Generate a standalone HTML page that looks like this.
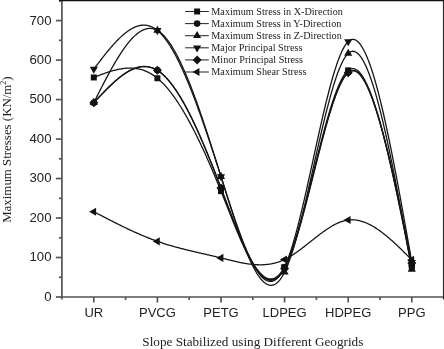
<!DOCTYPE html>
<html><head><meta charset="utf-8"><style>
html,body{margin:0;padding:0;background:#fff;}
svg{display:block;will-change:transform;}

</style></head><body>
<svg width="444" height="349" viewBox="0 0 444 349">
<g stroke="#555" stroke-width="1.7" fill="none">
<line x1="61.9" y1="0" x2="61.9" y2="299.5"/>
<line x1="61.1" y1="297" x2="443.7" y2="297"/>
<line x1="55.9" y1="297.00" x2="61.9" y2="297.00"/>
<line x1="58.9" y1="277.26" x2="61.9" y2="277.26"/>
<line x1="55.9" y1="257.51" x2="61.9" y2="257.51"/>
<line x1="58.9" y1="237.77" x2="61.9" y2="237.77"/>
<line x1="55.9" y1="218.03" x2="61.9" y2="218.03"/>
<line x1="58.9" y1="198.29" x2="61.9" y2="198.29"/>
<line x1="55.9" y1="178.54" x2="61.9" y2="178.54"/>
<line x1="58.9" y1="158.80" x2="61.9" y2="158.80"/>
<line x1="55.9" y1="139.06" x2="61.9" y2="139.06"/>
<line x1="58.9" y1="119.31" x2="61.9" y2="119.31"/>
<line x1="55.9" y1="99.57" x2="61.9" y2="99.57"/>
<line x1="58.9" y1="79.83" x2="61.9" y2="79.83"/>
<line x1="55.9" y1="60.09" x2="61.9" y2="60.09"/>
<line x1="58.9" y1="40.34" x2="61.9" y2="40.34"/>
<line x1="55.9" y1="20.60" x2="61.9" y2="20.60"/>
<line x1="58.9" y1="0.86" x2="61.9" y2="0.86"/>
<line x1="93.80" y1="297" x2="93.80" y2="302.5"/>
<line x1="125.60" y1="297" x2="125.60" y2="300"/>
<line x1="157.40" y1="297" x2="157.40" y2="302.5"/>
<line x1="189.20" y1="297" x2="189.20" y2="300"/>
<line x1="221.00" y1="297" x2="221.00" y2="302.5"/>
<line x1="252.80" y1="297" x2="252.80" y2="300"/>
<line x1="284.60" y1="297" x2="284.60" y2="302.5"/>
<line x1="316.40" y1="297" x2="316.40" y2="300"/>
<line x1="348.20" y1="297" x2="348.20" y2="302.5"/>
<line x1="380.00" y1="297" x2="380.00" y2="300"/>
<line x1="411.80" y1="297" x2="411.80" y2="302.5"/>
</g>
<line x1="443.7" y1="0" x2="443.7" y2="299.5" stroke="#2a2a2a" stroke-width="1.6"/>
<line x1="59" y1="0.5" x2="444" y2="0.5" stroke="#111" stroke-width="1.6"/>
<g font-family="Liberation Sans, sans-serif" font-size="13" fill="#222">
<text x="51.5" y="300.90" text-anchor="end" font-size="13.2">0</text>
<text x="51.5" y="261.41" text-anchor="end" font-size="13.2">100</text>
<text x="51.5" y="221.93" text-anchor="end" font-size="13.2">200</text>
<text x="51.5" y="182.44" text-anchor="end" font-size="13.2">300</text>
<text x="51.5" y="142.96" text-anchor="end" font-size="13.2">400</text>
<text x="51.5" y="103.47" text-anchor="end" font-size="13.2">500</text>
<text x="51.5" y="63.99" text-anchor="end" font-size="13.2">600</text>
<text x="51.5" y="24.50" text-anchor="end" font-size="13.2">700</text>
<text x="93.80" y="316.6" text-anchor="middle">UR</text>
<text x="157.40" y="316.6" text-anchor="middle">PVCG</text>
<text x="221.00" y="316.6" text-anchor="middle">PETG</text>
<text x="284.60" y="316.6" text-anchor="middle">LDPEG</text>
<text x="348.20" y="316.6" text-anchor="middle">HDPEG</text>
<text x="411.80" y="316.6" text-anchor="middle">PPG</text>
</g>
<g font-family="Liberation Serif, serif" fill="#222">
<text x="252.8" y="346.4" font-size="13.2" text-anchor="middle">Slope Stabilized using Different Geogrids</text>
<text transform="translate(11.2,149.6) rotate(-90)" font-size="12.9" text-anchor="middle">Maximum Stresses (KN/m<tspan font-size="8" dy="-5">2</tspan><tspan dy="5">)</tspan></text>
</g>
<g stroke="#161616" stroke-width="1.3" fill="none">
<polyline points="93.80,77.46 94.60,77.15 95.39,76.84 96.19,76.53 96.99,76.22 97.78,75.91 98.58,75.61 99.38,75.30 100.18,75.00 100.97,74.70 101.77,74.40 102.57,74.11 103.36,73.82 104.16,73.53 104.96,73.25 105.75,72.97 106.55,72.70 107.35,72.43 108.15,72.16 108.94,71.91 109.74,71.65 110.54,71.40 111.33,71.16 112.13,70.93 112.93,70.70 113.72,70.48 114.52,70.27 115.32,70.07 116.12,69.87 116.91,69.68 117.71,69.50 118.51,69.33 119.30,69.17 120.10,69.02 120.90,68.88 121.69,68.75 122.49,68.63 123.29,68.52 124.09,68.42 124.88,68.33 125.68,68.26 126.48,68.20 127.27,68.15 128.07,68.11 128.87,68.08 129.66,68.07 130.46,68.07 131.26,68.09 132.06,68.12 132.85,68.16 133.65,68.22 134.45,68.30 135.24,68.39 136.04,68.49 136.84,68.61 137.63,68.75 138.43,68.91 139.23,69.08 140.03,69.27 140.82,69.47 141.62,69.70 142.42,69.94 143.21,70.20 144.01,70.48 144.81,70.78 145.60,71.09 146.40,71.43 147.20,71.79 148.00,72.17 148.79,72.56 149.59,72.98 150.39,73.42 151.18,73.88 151.98,74.37 152.78,74.87 153.57,75.40 154.37,75.95 155.17,76.52 155.97,77.12 156.76,77.74 157.56,78.38 158.36,79.05 159.15,79.74 159.95,80.45 160.75,81.19 161.54,81.95 162.34,82.74 163.14,83.55 163.94,84.38 164.73,85.23 165.53,86.11 166.33,87.00 167.12,87.92 167.92,88.87 168.72,89.83 169.51,90.81 170.31,91.82 171.11,92.85 171.91,93.90 172.70,94.96 173.50,96.05 174.30,97.16 175.09,98.29 175.89,99.44 176.69,100.61 177.48,101.80 178.28,103.01 179.08,104.24 179.88,105.48 180.67,106.75 181.47,108.03 182.27,109.34 183.06,110.66 183.86,112.00 184.66,113.36 185.45,114.73 186.25,116.12 187.05,117.53 187.85,118.96 188.64,120.40 189.44,121.86 190.24,123.34 191.03,124.84 191.83,126.35 192.63,127.87 193.42,129.42 194.22,130.97 195.02,132.55 195.82,134.14 196.61,135.74 197.41,137.36 198.21,138.99 199.00,140.64 199.80,142.30 200.60,143.98 201.39,145.67 202.19,147.38 202.99,149.10 203.78,150.83 204.58,152.57 205.38,154.33 206.18,156.10 206.97,157.89 207.77,159.68 208.57,161.49 209.36,163.32 210.16,165.15 210.96,166.99 211.75,168.85 212.55,170.72 213.35,172.60 214.15,174.49 214.94,176.39 215.74,178.30 216.54,180.23 217.33,182.16 218.13,184.10 218.93,186.05 219.72,188.02 220.52,189.99 221.32,191.97 222.12,193.96 222.91,195.96 223.71,197.97 224.51,199.97 225.30,201.99 226.10,204.00 226.90,206.02 227.69,208.03 228.49,210.05 229.29,212.06 230.09,214.06 230.88,216.06 231.68,218.06 232.48,220.04 233.27,222.02 234.07,223.98 234.87,225.93 235.66,227.87 236.46,229.79 237.26,231.70 238.06,233.59 238.85,235.46 239.65,237.31 240.45,239.14 241.24,240.94 242.04,242.73 242.84,244.48 243.63,246.21 244.43,247.91 245.23,249.58 246.03,251.22 246.82,252.83 247.62,254.41 248.42,255.95 249.21,257.45 250.01,258.92 250.81,260.35 251.60,261.74 252.40,263.09 253.20,264.39 254.00,265.65 254.79,266.87 255.59,268.04 256.39,269.16 257.18,270.23 257.98,271.25 258.78,272.22 259.57,273.13 260.37,274.00 261.17,274.80 261.97,275.55 262.76,276.24 263.56,276.87 264.36,277.44 265.15,277.95 265.95,278.39 266.75,278.77 267.54,279.08 268.34,279.33 269.14,279.50 269.94,279.61 270.73,279.64 271.53,279.60 272.33,279.49 273.12,279.30 273.92,279.03 274.72,278.68 275.51,278.26 276.31,277.76 277.11,277.17 277.91,276.50 278.70,275.74 279.50,274.90 280.30,273.97 281.09,272.95 281.89,271.84 282.69,270.65 283.48,269.35 284.28,267.97 285.08,266.49 285.88,264.91 286.67,263.24 287.47,261.49 288.27,259.64 289.06,257.72 289.86,255.71 290.66,253.63 291.45,251.46 292.25,249.23 293.05,246.93 293.85,244.55 294.64,242.12 295.44,239.62 296.24,237.06 297.03,234.44 297.83,231.77 298.63,229.05 299.42,226.28 300.22,223.46 301.02,220.60 301.82,217.70 302.61,214.76 303.41,211.79 304.21,208.78 305.00,205.74 305.80,202.67 306.60,199.58 307.39,196.47 308.19,193.33 308.99,190.18 309.78,187.02 310.58,183.84 311.38,180.65 312.18,177.46 312.97,174.27 313.77,171.07 314.57,167.87 315.36,164.68 316.16,161.50 316.96,158.33 317.75,155.16 318.55,152.02 319.35,148.89 320.15,145.78 320.94,142.69 321.74,139.63 322.54,136.60 323.33,133.60 324.13,130.63 324.93,127.70 325.72,124.81 326.52,121.96 327.32,119.16 328.12,116.40 328.91,113.69 329.71,111.03 330.51,108.43 331.30,105.88 332.10,103.40 332.90,100.98 333.69,98.62 334.49,96.34 335.29,94.12 336.09,91.98 336.88,89.91 337.68,87.92 338.48,86.02 339.27,84.19 340.07,82.46 340.87,80.82 341.66,79.26 342.46,77.80 343.26,76.44 344.06,75.18 344.85,74.03 345.65,72.98 346.45,72.03 347.24,71.20 348.04,70.48 348.84,69.88 349.63,69.39 350.43,69.02 351.23,68.76 352.03,68.61 352.82,68.57 353.62,68.64 354.42,68.82 355.21,69.10 356.01,69.48 356.81,69.97 357.60,70.56 358.40,71.25 359.20,72.03 360.00,72.92 360.79,73.89 361.59,74.97 362.39,76.13 363.18,77.38 363.98,78.73 364.78,80.16 365.57,81.68 366.37,83.28 367.17,84.97 367.97,86.73 368.76,88.58 369.56,90.51 370.36,92.52 371.15,94.60 371.95,96.75 372.75,98.98 373.54,101.28 374.34,103.66 375.14,106.10 375.94,108.60 376.73,111.18 377.53,113.81 378.33,116.51 379.12,119.28 379.92,122.10 380.72,124.98 381.51,127.92 382.31,130.91 383.11,133.96 383.91,137.06 384.70,140.21 385.50,143.41 386.30,146.66 387.09,149.96 387.89,153.30 388.69,156.68 389.48,160.11 390.28,163.58 391.08,167.09 391.88,170.64 392.67,174.22 393.47,177.84 394.27,181.49 395.06,185.17 395.86,188.89 396.66,192.63 397.45,196.40 398.25,200.20 399.05,204.03 399.85,207.87 400.64,211.74 401.44,215.63 402.24,219.54 403.03,223.46 403.83,227.41 404.63,231.36 405.42,235.33 406.22,239.31 407.02,243.30 407.82,247.30 408.61,251.31 409.41,255.32 410.21,259.34 411.00,263.36 411.80,267.39"/>
<polyline points="93.80,102.73 94.60,101.87 95.39,101.02 96.19,100.17 96.99,99.31 97.78,98.46 98.58,97.61 99.38,96.77 100.18,95.92 100.97,95.08 101.77,94.25 102.57,93.41 103.36,92.59 104.16,91.76 104.96,90.95 105.75,90.14 106.55,89.33 107.35,88.53 108.15,87.74 108.94,86.96 109.74,86.19 110.54,85.42 111.33,84.66 112.13,83.91 112.93,83.18 113.72,82.45 114.52,81.73 115.32,81.02 116.12,80.33 116.91,79.64 117.71,78.97 118.51,78.31 119.30,77.67 120.10,77.04 120.90,76.42 121.69,75.82 122.49,75.23 123.29,74.66 124.09,74.10 124.88,73.56 125.68,73.03 126.48,72.52 127.27,72.03 128.07,71.56 128.87,71.11 129.66,70.67 130.46,70.25 131.26,69.86 132.06,69.48 132.85,69.12 133.65,68.78 134.45,68.47 135.24,68.18 136.04,67.90 136.84,67.66 137.63,67.43 138.43,67.23 139.23,67.05 140.03,66.89 140.82,66.76 141.62,66.66 142.42,66.58 143.21,66.52 144.01,66.49 144.81,66.49 145.60,66.52 146.40,66.57 147.20,66.65 148.00,66.76 148.79,66.90 149.59,67.07 150.39,67.27 151.18,67.50 151.98,67.75 152.78,68.04 153.57,68.36 154.37,68.72 155.17,69.10 155.97,69.52 156.76,69.97 157.56,70.45 158.36,70.97 159.15,71.52 159.95,72.10 160.75,72.72 161.54,73.37 162.34,74.05 163.14,74.76 163.94,75.51 164.73,76.28 165.53,77.09 166.33,77.92 167.12,78.79 167.92,79.68 168.72,80.61 169.51,81.56 170.31,82.54 171.11,83.55 171.91,84.59 172.70,85.65 173.50,86.75 174.30,87.87 175.09,89.01 175.89,90.18 176.69,91.38 177.48,92.60 178.28,93.85 179.08,95.13 179.88,96.42 180.67,97.74 181.47,99.09 182.27,100.46 183.06,101.85 183.86,103.26 184.66,104.70 185.45,106.16 186.25,107.64 187.05,109.14 187.85,110.66 188.64,112.20 189.44,113.76 190.24,115.35 191.03,116.95 191.83,118.57 192.63,120.21 193.42,121.87 194.22,123.54 195.02,125.24 195.82,126.95 196.61,128.68 197.41,130.43 198.21,132.19 199.00,133.97 199.80,135.76 200.60,137.57 201.39,139.39 202.19,141.23 202.99,143.08 203.78,144.95 204.58,146.83 205.38,148.73 206.18,150.63 206.97,152.55 207.77,154.48 208.57,156.43 209.36,158.38 210.16,160.35 210.96,162.33 211.75,164.31 212.55,166.31 213.35,168.32 214.15,170.33 214.94,172.36 215.74,174.40 216.54,176.44 217.33,178.49 218.13,180.55 218.93,182.62 219.72,184.69 220.52,186.77 221.32,188.85 222.12,190.95 222.91,193.04 223.71,195.14 224.51,197.24 225.30,199.34 226.10,201.45 226.90,203.55 227.69,205.64 228.49,207.73 229.29,209.82 230.09,211.90 230.88,213.97 231.68,216.03 232.48,218.08 233.27,220.11 234.07,222.14 234.87,224.15 235.66,226.14 236.46,228.12 237.26,230.08 238.06,232.02 238.85,233.93 239.65,235.83 240.45,237.70 241.24,239.55 242.04,241.37 242.84,243.16 243.63,244.93 244.43,246.67 245.23,248.37 246.03,250.04 246.82,251.68 247.62,253.29 248.42,254.85 249.21,256.39 250.01,257.88 250.81,259.33 251.60,260.74 252.40,262.11 253.20,263.43 254.00,264.71 254.79,265.95 255.59,267.13 256.39,268.27 257.18,269.36 257.98,270.40 258.78,271.38 259.57,272.31 260.37,273.18 261.17,274.00 261.97,274.76 262.76,275.47 263.56,276.11 264.36,276.69 265.15,277.21 265.95,277.66 266.75,278.05 267.54,278.37 268.34,278.63 269.14,278.81 269.94,278.93 270.73,278.97 271.53,278.94 272.33,278.84 273.12,278.66 273.92,278.41 274.72,278.08 275.51,277.67 276.31,277.17 277.11,276.60 277.91,275.95 278.70,275.21 279.50,274.38 280.30,273.47 281.09,272.47 281.89,271.38 282.69,270.20 283.48,268.93 284.28,267.56 285.08,266.10 285.88,264.55 286.67,262.91 287.47,261.18 288.27,259.37 289.06,257.47 289.86,255.49 290.66,253.43 291.45,251.30 292.25,249.10 293.05,246.83 293.85,244.49 294.64,242.09 295.44,239.62 296.24,237.10 297.03,234.52 297.83,231.89 298.63,229.20 299.42,226.47 300.22,223.69 301.02,220.87 301.82,218.00 302.61,215.10 303.41,212.17 304.21,209.20 305.00,206.20 305.80,203.17 306.60,200.12 307.39,197.05 308.19,193.96 308.99,190.85 309.78,187.72 310.58,184.59 311.38,181.44 312.18,178.29 312.97,175.13 313.77,171.98 314.57,168.82 315.36,165.67 316.16,162.53 316.96,159.39 317.75,156.27 318.55,153.16 319.35,150.07 320.15,147.00 320.94,143.95 321.74,140.93 322.54,137.93 323.33,134.97 324.13,132.04 324.93,129.14 325.72,126.28 326.52,123.46 327.32,120.69 328.12,117.96 328.91,115.28 329.71,112.66 330.51,110.08 331.30,107.57 332.10,105.11 332.90,102.71 333.69,100.38 334.49,98.12 335.29,95.92 336.09,93.80 336.88,91.75 337.68,89.79 338.48,87.90 339.27,86.09 340.07,84.37 340.87,82.74 341.66,81.20 342.46,79.75 343.26,78.40 344.06,77.15 344.85,76.00 345.65,74.95 346.45,74.01 347.24,73.18 348.04,72.46 348.84,71.85 349.63,71.36 350.43,70.98 351.23,70.71 352.03,70.55 352.82,70.50 353.62,70.56 354.42,70.72 355.21,70.98 356.01,71.35 356.81,71.82 357.60,72.39 358.40,73.05 359.20,73.82 360.00,74.67 360.79,75.62 361.59,76.67 362.39,77.80 363.18,79.03 363.98,80.34 364.78,81.74 365.57,83.22 366.37,84.78 367.17,86.43 367.97,88.16 368.76,89.97 369.56,91.86 370.36,93.82 371.15,95.86 371.95,97.97 372.75,100.15 373.54,102.41 374.34,104.73 375.14,107.12 375.94,109.58 376.73,112.10 377.53,114.69 378.33,117.34 379.12,120.04 379.92,122.81 380.72,125.64 381.51,128.52 382.31,131.45 383.11,134.44 383.91,137.48 384.70,140.57 385.50,143.71 386.30,146.90 387.09,150.14 387.89,153.42 388.69,156.74 389.48,160.10 390.28,163.51 391.08,166.95 391.88,170.43 392.67,173.95 393.47,177.50 394.27,181.08 395.06,184.70 395.86,188.35 396.66,192.02 397.45,195.72 398.25,199.45 399.05,203.21 399.85,206.98 400.64,210.78 401.44,214.60 402.24,218.43 403.03,222.29 403.83,226.16 404.63,230.04 405.42,233.94 406.22,237.85 407.02,241.77 407.82,245.69 408.61,249.63 409.41,253.57 410.21,257.51 411.00,261.46 411.80,265.41"/>
<polyline points="93.80,102.73 94.60,101.15 95.39,99.57 96.19,97.99 96.99,96.41 97.78,94.83 98.58,93.26 99.38,91.69 100.18,90.12 100.97,88.56 101.77,87.01 102.57,85.46 103.36,83.92 104.16,82.39 104.96,80.86 105.75,79.35 106.55,77.84 107.35,76.35 108.15,74.86 108.94,73.39 109.74,71.93 110.54,70.48 111.33,69.04 112.13,67.62 112.93,66.22 113.72,64.82 114.52,63.45 115.32,62.09 116.12,60.75 116.91,59.43 117.71,58.12 118.51,56.84 119.30,55.57 120.10,54.32 120.90,53.10 121.69,51.90 122.49,50.72 123.29,49.56 124.09,48.42 124.88,47.31 125.68,46.23 126.48,45.17 127.27,44.14 128.07,43.13 128.87,42.15 129.66,41.20 130.46,40.28 131.26,39.39 132.06,38.52 132.85,37.69 133.65,36.89 134.45,36.12 135.24,35.38 136.04,34.68 136.84,34.01 137.63,33.38 138.43,32.78 139.23,32.21 140.03,31.68 140.82,31.19 141.62,30.74 142.42,30.32 143.21,29.95 144.01,29.61 144.81,29.32 145.60,29.06 146.40,28.85 147.20,28.67 148.00,28.54 148.79,28.46 149.59,28.42 150.39,28.42 151.18,28.47 151.98,28.56 152.78,28.70 153.57,28.89 154.37,29.13 155.17,29.41 155.97,29.75 156.76,30.13 157.56,30.56 158.36,31.05 159.15,31.58 159.95,32.17 160.75,32.80 161.54,33.48 162.34,34.21 163.14,34.98 163.94,35.81 164.73,36.68 165.53,37.59 166.33,38.55 167.12,39.55 167.92,40.60 168.72,41.69 169.51,42.82 170.31,43.99 171.11,45.20 171.91,46.46 172.70,47.75 173.50,49.09 174.30,50.46 175.09,51.87 175.89,53.31 176.69,54.80 177.48,56.32 178.28,57.87 179.08,59.46 179.88,61.09 180.67,62.74 181.47,64.44 182.27,66.16 183.06,67.91 183.86,69.70 184.66,71.52 185.45,73.37 186.25,75.24 187.05,77.15 187.85,79.08 188.64,81.04 189.44,83.03 190.24,85.04 191.03,87.08 191.83,89.15 192.63,91.24 193.42,93.35 194.22,95.49 195.02,97.65 195.82,99.83 196.61,102.03 197.41,104.25 198.21,106.50 199.00,108.76 199.80,111.04 200.60,113.34 201.39,115.66 202.19,118.00 202.99,120.35 203.78,122.72 204.58,125.10 205.38,127.50 206.18,129.91 206.97,132.33 207.77,134.77 208.57,137.22 209.36,139.69 210.16,142.16 210.96,144.64 211.75,147.13 212.55,149.64 213.35,152.15 214.15,154.67 214.94,157.19 215.74,159.73 216.54,162.27 217.33,164.81 218.13,167.36 218.93,169.91 219.72,172.47 220.52,175.03 221.32,177.59 222.12,180.16 222.91,182.72 223.71,185.29 224.51,187.85 225.30,190.40 226.10,192.96 226.90,195.50 227.69,198.04 228.49,200.56 229.29,203.08 230.09,205.59 230.88,208.08 231.68,210.55 232.48,213.01 233.27,215.46 234.07,217.88 234.87,220.28 235.66,222.66 236.46,225.02 237.26,227.36 238.06,229.67 238.85,231.95 239.65,234.20 240.45,236.42 241.24,238.61 242.04,240.77 242.84,242.90 243.63,244.99 244.43,247.04 245.23,249.06 246.03,251.03 246.82,252.97 247.62,254.86 248.42,256.71 249.21,258.51 250.01,260.27 250.81,261.98 251.60,263.64 252.40,265.25 253.20,266.81 254.00,268.32 254.79,269.77 255.59,271.17 256.39,272.51 257.18,273.79 257.98,275.01 258.78,276.17 259.57,277.26 260.37,278.30 261.17,279.26 261.97,280.17 262.76,281.00 263.56,281.76 264.36,282.45 265.15,283.07 265.95,283.62 266.75,284.09 267.54,284.49 268.34,284.81 269.14,285.05 269.94,285.20 270.73,285.28 271.53,285.27 272.33,285.18 273.12,285.01 273.92,284.74 274.72,284.39 275.51,283.95 276.31,283.42 277.11,282.79 277.91,282.07 278.70,281.25 279.50,280.34 280.30,279.33 281.09,278.22 281.89,277.01 282.69,275.70 283.48,274.28 284.28,272.76 285.08,271.13 285.88,269.40 286.67,267.57 287.47,265.63 288.27,263.60 289.06,261.48 289.86,259.27 290.66,256.97 291.45,254.58 292.25,252.12 293.05,249.57 293.85,246.95 294.64,244.26 295.44,241.50 296.24,238.67 297.03,235.78 297.83,232.82 298.63,229.81 299.42,226.74 300.22,223.63 301.02,220.46 301.82,217.25 302.61,213.99 303.41,210.70 304.21,207.36 305.00,204.00 305.80,200.60 306.60,197.17 307.39,193.72 308.19,190.25 308.99,186.76 309.78,183.25 310.58,179.72 311.38,176.19 312.18,172.65 312.97,169.11 313.77,165.56 314.57,162.01 315.36,158.47 316.16,154.94 316.96,151.42 317.75,147.91 318.55,144.41 319.35,140.94 320.15,137.48 320.94,134.06 321.74,130.66 322.54,127.29 323.33,123.95 324.13,120.66 324.93,117.40 325.72,114.18 326.52,111.01 327.32,107.89 328.12,104.82 328.91,101.81 329.71,98.85 330.51,95.95 331.30,93.12 332.10,90.35 332.90,87.66 333.69,85.03 334.49,82.48 335.29,80.01 336.09,77.62 336.88,75.31 337.68,73.09 338.48,70.97 339.27,68.93 340.07,66.99 340.87,65.15 341.66,63.41 342.46,61.78 343.26,60.25 344.06,58.83 344.85,57.53 345.65,56.35 346.45,55.28 347.24,54.34 348.04,53.52 348.84,52.83 349.63,52.27 350.43,51.84 351.23,51.53 352.03,51.34 352.82,51.27 353.62,51.32 354.42,51.50 355.21,51.78 356.01,52.19 356.81,52.70 357.60,53.33 358.40,54.07 359.20,54.92 360.00,55.87 360.79,56.93 361.59,58.09 362.39,59.35 363.18,60.72 363.98,62.18 364.78,63.74 365.57,65.39 366.37,67.14 367.17,68.98 367.97,70.92 368.76,72.94 369.56,75.05 370.36,77.24 371.15,79.52 371.95,81.88 372.75,84.32 373.54,86.84 374.34,89.44 375.14,92.11 375.94,94.86 376.73,97.68 377.53,100.58 378.33,103.54 379.12,106.57 379.92,109.67 380.72,112.83 381.51,116.05 382.31,119.34 383.11,122.69 383.91,126.09 384.70,129.55 385.50,133.07 386.30,136.64 387.09,140.26 387.89,143.93 388.69,147.65 389.48,151.41 390.28,155.23 391.08,159.08 391.88,162.98 392.67,166.92 393.47,170.89 394.27,174.91 395.06,178.96 395.86,183.04 396.66,187.16 397.45,191.30 398.25,195.48 399.05,199.68 399.85,203.91 400.64,208.17 401.44,212.44 402.24,216.74 403.03,221.06 403.83,225.39 404.63,229.74 405.42,234.11 406.22,238.49 407.02,242.88 407.82,247.27 408.61,251.68 409.41,256.10 410.21,260.51 411.00,264.94 411.80,269.36"/>
<polyline points="93.80,69.17 94.60,68.11 95.39,67.06 96.19,66.01 96.99,64.96 97.78,63.91 98.58,62.87 99.38,61.83 100.18,60.79 100.97,59.76 101.77,58.73 102.57,57.70 103.36,56.69 104.16,55.68 104.96,54.67 105.75,53.67 106.55,52.69 107.35,51.71 108.15,50.73 108.94,49.77 109.74,48.82 110.54,47.88 111.33,46.95 112.13,46.03 112.93,45.13 113.72,44.24 114.52,43.36 115.32,42.49 116.12,41.64 116.91,40.81 117.71,39.99 118.51,39.18 119.30,38.40 120.10,37.63 120.90,36.87 121.69,36.14 122.49,35.42 123.29,34.73 124.09,34.05 124.88,33.39 125.68,32.76 126.48,32.14 127.27,31.55 128.07,30.98 128.87,30.44 129.66,29.91 130.46,29.41 131.26,28.94 132.06,28.49 132.85,28.07 133.65,27.67 134.45,27.30 135.24,26.96 136.04,26.64 136.84,26.35 137.63,26.10 138.43,25.87 139.23,25.67 140.03,25.50 140.82,25.36 141.62,25.26 142.42,25.18 143.21,25.14 144.01,25.14 144.81,25.16 145.60,25.22 146.40,25.32 147.20,25.45 148.00,25.61 148.79,25.82 149.59,26.06 150.39,26.33 151.18,26.65 151.98,27.00 152.78,27.40 153.57,27.83 154.37,28.30 155.17,28.81 155.97,29.37 156.76,29.96 157.56,30.60 158.36,31.28 159.15,32.01 159.95,32.77 160.75,33.58 161.54,34.42 162.34,35.31 163.14,36.24 163.94,37.20 164.73,38.21 165.53,39.25 166.33,40.33 167.12,41.44 167.92,42.60 168.72,43.79 169.51,45.01 170.31,46.27 171.11,47.57 171.91,48.90 172.70,50.26 173.50,51.66 174.30,53.09 175.09,54.55 175.89,56.04 176.69,57.57 177.48,59.12 178.28,60.71 179.08,62.32 179.88,63.97 180.67,65.64 181.47,67.34 182.27,69.07 183.06,70.83 183.86,72.61 184.66,74.42 185.45,76.26 186.25,78.12 187.05,80.01 187.85,81.92 188.64,83.85 189.44,85.81 190.24,87.79 191.03,89.79 191.83,91.81 192.63,93.86 193.42,95.93 194.22,98.01 195.02,100.12 195.82,102.25 196.61,104.39 197.41,106.56 198.21,108.74 199.00,110.94 199.80,113.15 200.60,115.38 201.39,117.63 202.19,119.89 202.99,122.17 203.78,124.47 204.58,126.77 205.38,129.09 206.18,131.43 206.97,133.77 207.77,136.13 208.57,138.50 209.36,140.88 210.16,143.27 210.96,145.67 211.75,148.08 212.55,150.50 213.35,152.93 214.15,155.36 214.94,157.81 215.74,160.26 216.54,162.71 217.33,165.18 218.13,167.64 218.93,170.12 219.72,172.60 220.52,175.08 221.32,177.56 222.12,180.05 222.91,182.54 223.71,185.03 224.51,187.52 225.30,190.00 226.10,192.48 226.90,194.96 227.69,197.43 228.49,199.89 229.29,202.34 230.09,204.78 230.88,207.20 231.68,209.61 232.48,212.01 233.27,214.39 234.07,216.75 234.87,219.09 235.66,221.41 236.46,223.71 237.26,225.99 238.06,228.23 238.85,230.46 239.65,232.65 240.45,234.82 241.24,236.95 242.04,239.05 242.84,241.12 243.63,243.15 244.43,245.15 245.23,247.11 246.03,249.03 246.82,250.91 247.62,252.75 248.42,254.54 249.21,256.29 250.01,257.99 250.81,259.65 251.60,261.25 252.40,262.81 253.20,264.31 254.00,265.76 254.79,267.16 255.59,268.50 256.39,269.78 257.18,271.01 257.98,272.17 258.78,273.27 259.57,274.31 260.37,275.29 261.17,276.20 261.97,277.04 262.76,277.81 263.56,278.51 264.36,279.15 265.15,279.71 265.95,280.19 266.75,280.60 267.54,280.93 268.34,281.19 269.14,281.36 269.94,281.45 270.73,281.47 271.53,281.39 272.33,281.23 273.12,280.99 273.92,280.65 274.72,280.23 275.51,279.72 276.31,279.11 277.11,278.41 277.91,277.62 278.70,276.72 279.50,275.74 280.30,274.65 281.09,273.46 281.89,272.17 282.69,270.77 283.48,269.27 284.28,267.66 285.08,265.95 285.88,264.13 286.67,262.21 287.47,260.18 288.27,258.06 289.06,255.84 289.86,253.54 290.66,251.14 291.45,248.66 292.25,246.09 293.05,243.45 293.85,240.73 294.64,237.94 295.44,235.08 296.24,232.15 297.03,229.15 297.83,226.10 298.63,222.98 299.42,219.81 300.22,216.59 301.02,213.32 301.82,210.00 302.61,206.64 303.41,203.24 304.21,199.81 305.00,196.34 305.80,192.83 306.60,189.30 307.39,185.75 308.19,182.17 308.99,178.57 309.78,174.96 310.58,171.33 311.38,167.69 312.18,164.05 312.97,160.40 313.77,156.76 314.57,153.11 315.36,149.47 316.16,145.84 316.96,142.21 317.75,138.60 318.55,135.01 319.35,131.44 320.15,127.89 320.94,124.37 321.74,120.88 322.54,117.42 323.33,113.99 324.13,110.61 324.93,107.26 325.72,103.96 326.52,100.70 327.32,97.50 328.12,94.35 328.91,91.25 329.71,88.22 330.51,85.24 331.30,82.34 332.10,79.50 332.90,76.73 333.69,74.03 334.49,71.42 335.29,68.88 336.09,66.43 336.88,64.06 337.68,61.78 338.48,59.60 339.27,57.51 340.07,55.52 340.87,53.63 341.66,51.84 342.46,50.16 343.26,48.60 344.06,47.14 344.85,45.80 345.65,44.59 346.45,43.49 347.24,42.52 348.04,41.68 348.84,40.97 349.63,40.39 350.43,39.94 351.23,39.62 352.03,39.42 352.82,39.35 353.62,39.40 354.42,39.57 355.21,39.86 356.01,40.27 356.81,40.79 357.60,41.43 358.40,42.18 359.20,43.04 360.00,44.01 360.79,45.09 361.59,46.28 362.39,47.56 363.18,48.96 363.98,50.45 364.78,52.04 365.57,53.73 366.37,55.52 367.17,57.40 367.97,59.37 368.76,61.43 369.56,63.59 370.36,65.83 371.15,68.16 371.95,70.57 372.75,73.06 373.54,75.64 374.34,78.29 375.14,81.03 375.94,83.84 376.73,86.72 377.53,89.68 378.33,92.70 379.12,95.80 379.92,98.97 380.72,102.20 381.51,105.49 382.31,108.85 383.11,112.27 383.91,115.75 384.70,119.29 385.50,122.89 386.30,126.54 387.09,130.24 387.89,133.99 388.69,137.79 389.48,141.65 390.28,145.54 391.08,149.49 391.88,153.47 392.67,157.50 393.47,161.56 394.27,165.67 395.06,169.81 395.86,173.98 396.66,178.19 397.45,182.43 398.25,186.70 399.05,191.00 399.85,195.33 400.64,199.68 401.44,204.05 402.24,208.44 403.03,212.86 403.83,217.29 404.63,221.74 405.42,226.20 406.22,230.68 407.02,235.17 407.82,239.67 408.61,244.18 409.41,248.69 410.21,253.21 411.00,257.73 411.80,262.25"/>
<polyline points="93.80,102.73 94.60,101.88 95.39,101.02 96.19,100.17 96.99,99.32 97.78,98.47 98.58,97.62 99.38,96.78 100.18,95.94 100.97,95.10 101.77,94.27 102.57,93.44 103.36,92.61 104.16,91.79 104.96,90.97 105.75,90.17 106.55,89.36 107.35,88.57 108.15,87.78 108.94,87.00 109.74,86.22 110.54,85.46 111.33,84.70 112.13,83.96 112.93,83.22 113.72,82.49 114.52,81.78 115.32,81.07 116.12,80.38 116.91,79.69 117.71,79.02 118.51,78.37 119.30,77.72 120.10,77.09 120.90,76.48 121.69,75.87 122.49,75.29 123.29,74.71 124.09,74.16 124.88,73.62 125.68,73.09 126.48,72.58 127.27,72.09 128.07,71.62 128.87,71.17 129.66,70.73 130.46,70.31 131.26,69.92 132.06,69.54 132.85,69.18 133.65,68.84 134.45,68.53 135.24,68.24 136.04,67.96 136.84,67.71 137.63,67.49 138.43,67.28 139.23,67.10 140.03,66.95 140.82,66.82 141.62,66.71 142.42,66.63 143.21,66.57 144.01,66.54 144.81,66.54 145.60,66.56 146.40,66.61 147.20,66.69 148.00,66.80 148.79,66.94 149.59,67.10 150.39,67.30 151.18,67.52 151.98,67.78 152.78,68.06 153.57,68.38 154.37,68.73 155.17,69.11 155.97,69.52 156.76,69.97 157.56,70.45 158.36,70.96 159.15,71.51 159.95,72.09 160.75,72.70 161.54,73.35 162.34,74.02 163.14,74.73 163.94,75.47 164.73,76.24 165.53,77.04 166.33,77.87 167.12,78.73 167.92,79.62 168.72,80.54 169.51,81.49 170.31,82.46 171.11,83.47 171.91,84.50 172.70,85.56 173.50,86.65 174.30,87.76 175.09,88.90 175.89,90.07 176.69,91.26 177.48,92.48 178.28,93.73 179.08,94.99 179.88,96.29 180.67,97.60 181.47,98.94 182.27,100.31 183.06,101.69 183.86,103.11 184.66,104.54 185.45,105.99 186.25,107.47 187.05,108.97 187.85,110.49 188.64,112.02 189.44,113.58 190.24,115.16 191.03,116.76 191.83,118.38 192.63,120.02 193.42,121.68 194.22,123.36 195.02,125.05 195.82,126.76 196.61,128.49 197.41,130.23 198.21,132.00 199.00,133.78 199.80,135.57 200.60,137.38 201.39,139.21 202.19,141.05 202.99,142.90 203.78,144.77 204.58,146.66 205.38,148.56 206.18,150.47 206.97,152.39 207.77,154.33 208.57,156.28 209.36,158.24 210.16,160.21 210.96,162.19 211.75,164.19 212.55,166.19 213.35,168.21 214.15,170.24 214.94,172.27 215.74,174.32 216.54,176.37 217.33,178.43 218.13,180.50 218.93,182.58 219.72,184.67 220.52,186.76 221.32,188.86 222.12,190.97 222.91,193.08 223.71,195.19 224.51,197.31 225.30,199.43 226.10,201.55 226.90,203.66 227.69,205.78 228.49,207.89 229.29,209.99 230.09,212.09 230.88,214.18 231.68,216.26 232.48,218.33 233.27,220.39 234.07,222.44 234.87,224.47 235.66,226.48 236.46,228.48 237.26,230.46 238.06,232.42 238.85,234.36 239.65,236.28 240.45,238.18 241.24,240.05 242.04,241.89 242.84,243.71 243.63,245.50 244.43,247.26 245.23,248.99 246.03,250.69 246.82,252.35 247.62,253.98 248.42,255.57 249.21,257.13 250.01,258.64 250.81,260.12 251.60,261.56 252.40,262.95 253.20,264.30 254.00,265.60 254.79,266.86 255.59,268.07 256.39,269.23 257.18,270.34 257.98,271.40 258.78,272.41 259.57,273.36 260.37,274.26 261.17,275.10 261.97,275.89 262.76,276.61 263.56,277.27 264.36,277.88 265.15,278.42 265.95,278.89 266.75,279.30 267.54,279.64 268.34,279.92 269.14,280.12 269.94,280.26 270.73,280.32 271.53,280.31 272.33,280.22 273.12,280.06 273.92,279.83 274.72,279.51 275.51,279.11 276.31,278.64 277.11,278.08 277.91,277.44 278.70,276.71 279.50,275.90 280.30,275.00 281.09,274.01 281.89,272.93 282.69,271.76 283.48,270.50 284.28,269.14 285.08,267.69 285.88,266.14 286.67,264.51 287.47,262.78 288.27,260.97 289.06,259.08 289.86,257.10 290.66,255.05 291.45,252.92 292.25,250.72 293.05,248.45 293.85,246.11 294.64,243.71 295.44,241.24 296.24,238.71 297.03,236.13 297.83,233.49 298.63,230.81 299.42,228.07 300.22,225.28 301.02,222.46 301.82,219.59 302.61,216.68 303.41,213.73 304.21,210.76 305.00,207.75 305.80,204.71 306.60,201.65 307.39,198.57 308.19,195.46 308.99,192.34 309.78,189.20 310.58,186.06 311.38,182.90 312.18,179.73 312.97,176.56 313.77,173.39 314.57,170.22 315.36,167.05 316.16,163.89 316.96,160.74 317.75,157.60 318.55,154.48 319.35,151.37 320.15,148.28 320.94,145.21 321.74,142.17 322.54,139.15 323.33,136.17 324.13,133.21 324.93,130.30 325.72,127.42 326.52,124.58 327.32,121.78 328.12,119.03 328.91,116.33 329.71,113.68 330.51,111.08 331.30,108.54 332.10,106.06 332.90,103.64 333.69,101.28 334.49,98.99 335.29,96.77 336.09,94.62 336.88,92.55 337.68,90.56 338.48,88.64 339.27,86.81 340.07,85.06 340.87,83.40 341.66,81.83 342.46,80.36 343.26,78.98 344.06,77.69 344.85,76.51 345.65,75.44 346.45,74.47 347.24,73.61 348.04,72.86 348.84,72.22 349.63,71.70 350.43,71.29 351.23,70.99 352.03,70.80 352.82,70.72 353.62,70.75 354.42,70.88 355.21,71.11 356.01,71.45 356.81,71.88 357.60,72.42 358.40,73.05 359.20,73.78 360.00,74.61 360.79,75.53 361.59,76.54 362.39,77.64 363.18,78.83 363.98,80.11 364.78,81.48 365.57,82.92 366.37,84.46 367.17,86.07 367.97,87.77 368.76,89.54 369.56,91.40 370.36,93.33 371.15,95.33 371.95,97.41 372.75,99.56 373.54,101.78 374.34,104.07 375.14,106.42 375.94,108.84 376.73,111.33 377.53,113.88 378.33,116.50 379.12,119.17 379.92,121.90 380.72,124.69 381.51,127.54 382.31,130.44 383.11,133.39 383.91,136.39 384.70,139.45 385.50,142.56 386.30,145.71 387.09,148.91 387.89,152.15 388.69,155.44 389.48,158.76 390.28,162.13 391.08,165.54 391.88,168.98 392.67,172.46 393.47,175.98 394.27,179.53 395.06,183.11 395.86,186.71 396.66,190.35 397.45,194.02 398.25,197.71 399.05,201.43 399.85,205.17 400.64,208.93 401.44,212.71 402.24,216.51 403.03,220.33 403.83,224.16 404.63,228.01 405.42,231.87 406.22,235.74 407.02,239.62 407.82,243.51 408.61,247.41 409.41,251.31 410.21,255.22 411.00,259.13 411.80,263.04"/>
<polyline points="93.80,211.71 94.60,212.13 95.39,212.54 96.19,212.96 96.99,213.37 97.78,213.79 98.58,214.21 99.38,214.62 100.18,215.04 100.97,215.45 101.77,215.86 102.57,216.28 103.36,216.69 104.16,217.10 104.96,217.52 105.75,217.93 106.55,218.34 107.35,218.75 108.15,219.16 108.94,219.57 109.74,219.97 110.54,220.38 111.33,220.79 112.13,221.19 112.93,221.60 113.72,222.00 114.52,222.40 115.32,222.80 116.12,223.20 116.91,223.60 117.71,224.00 118.51,224.40 119.30,224.79 120.10,225.18 120.90,225.58 121.69,225.97 122.49,226.36 123.29,226.74 124.09,227.13 124.88,227.52 125.68,227.90 126.48,228.28 127.27,228.66 128.07,229.04 128.87,229.41 129.66,229.79 130.46,230.16 131.26,230.53 132.06,230.90 132.85,231.26 133.65,231.63 134.45,231.99 135.24,232.35 136.04,232.71 136.84,233.06 137.63,233.42 138.43,233.77 139.23,234.12 140.03,234.46 140.82,234.81 141.62,235.15 142.42,235.49 143.21,235.82 144.01,236.16 144.81,236.49 145.60,236.81 146.40,237.14 147.20,237.46 148.00,237.78 148.79,238.10 149.59,238.41 150.39,238.72 151.18,239.03 151.98,239.34 152.78,239.64 153.57,239.94 154.37,240.23 155.17,240.52 155.97,240.81 156.76,241.10 157.56,241.38 158.36,241.66 159.15,241.94 159.95,242.21 160.75,242.48 161.54,242.74 162.34,243.01 163.14,243.27 163.94,243.52 164.73,243.78 165.53,244.03 166.33,244.28 167.12,244.52 167.92,244.77 168.72,245.01 169.51,245.25 170.31,245.48 171.11,245.71 171.91,245.95 172.70,246.17 173.50,246.40 174.30,246.62 175.09,246.85 175.89,247.06 176.69,247.28 177.48,247.50 178.28,247.71 179.08,247.92 179.88,248.13 180.67,248.34 181.47,248.55 182.27,248.75 183.06,248.96 183.86,249.16 184.66,249.36 185.45,249.56 186.25,249.76 187.05,249.95 187.85,250.15 188.64,250.34 189.44,250.53 190.24,250.73 191.03,250.92 191.83,251.11 192.63,251.29 193.42,251.48 194.22,251.67 195.02,251.86 195.82,252.04 196.61,252.23 197.41,252.41 198.21,252.60 199.00,252.78 199.80,252.96 200.60,253.15 201.39,253.33 202.19,253.51 202.99,253.70 203.78,253.88 204.58,254.06 205.38,254.24 206.18,254.43 206.97,254.61 207.77,254.79 208.57,254.97 209.36,255.16 210.16,255.34 210.96,255.53 211.75,255.71 212.55,255.90 213.35,256.08 214.15,256.27 214.94,256.46 215.74,256.64 216.54,256.83 217.33,257.02 218.13,257.21 218.93,257.41 219.72,257.60 220.52,257.79 221.32,257.99 222.12,258.18 222.91,258.38 223.71,258.58 224.51,258.78 225.30,258.98 226.10,259.17 226.90,259.37 227.69,259.57 228.49,259.77 229.29,259.97 230.09,260.16 230.88,260.36 231.68,260.55 232.48,260.74 233.27,260.93 234.07,261.12 234.87,261.31 235.66,261.49 236.46,261.67 237.26,261.85 238.06,262.02 238.85,262.19 239.65,262.36 240.45,262.53 241.24,262.69 242.04,262.84 242.84,262.99 243.63,263.14 244.43,263.28 245.23,263.42 246.03,263.55 246.82,263.68 247.62,263.80 248.42,263.91 249.21,264.02 250.01,264.13 250.81,264.22 251.60,264.31 252.40,264.40 253.20,264.47 254.00,264.54 254.79,264.60 255.59,264.65 256.39,264.70 257.18,264.74 257.98,264.77 258.78,264.79 259.57,264.80 260.37,264.80 261.17,264.79 261.97,264.78 262.76,264.75 263.56,264.71 264.36,264.67 265.15,264.61 265.95,264.55 266.75,264.47 267.54,264.38 268.34,264.28 269.14,264.17 269.94,264.05 270.73,263.92 271.53,263.77 272.33,263.61 273.12,263.44 273.92,263.26 274.72,263.06 275.51,262.85 276.31,262.63 277.11,262.40 277.91,262.15 278.70,261.88 279.50,261.61 280.30,261.32 281.09,261.01 281.89,260.69 282.69,260.36 283.48,260.00 284.28,259.64 285.08,259.26 285.88,258.86 286.67,258.45 287.47,258.02 288.27,257.58 289.06,257.13 289.86,256.66 290.66,256.19 291.45,255.70 292.25,255.19 293.05,254.68 293.85,254.16 294.64,253.62 295.44,253.08 296.24,252.53 297.03,251.97 297.83,251.40 298.63,250.82 299.42,250.24 300.22,249.65 301.02,249.05 301.82,248.45 302.61,247.84 303.41,247.22 304.21,246.61 305.00,245.99 305.80,245.36 306.60,244.73 307.39,244.11 308.19,243.47 308.99,242.84 309.78,242.21 310.58,241.57 311.38,240.94 312.18,240.30 312.97,239.67 313.77,239.04 314.57,238.41 315.36,237.78 316.16,237.16 316.96,236.54 317.75,235.92 318.55,235.31 319.35,234.70 320.15,234.09 320.94,233.50 321.74,232.91 322.54,232.32 323.33,231.74 324.13,231.17 324.93,230.61 325.72,230.06 326.52,229.52 327.32,228.98 328.12,228.46 328.91,227.94 329.71,227.44 330.51,226.95 331.30,226.47 332.10,226.01 332.90,225.55 333.69,225.11 334.49,224.68 335.29,224.27 336.09,223.88 336.88,223.49 337.68,223.13 338.48,222.78 339.27,222.44 340.07,222.13 340.87,221.83 341.66,221.55 342.46,221.29 343.26,221.05 344.06,220.82 344.85,220.62 345.65,220.44 346.45,220.28 347.24,220.14 348.04,220.02 348.84,219.93 349.63,219.86 350.43,219.81 351.23,219.78 352.03,219.77 352.82,219.79 353.62,219.82 354.42,219.88 355.21,219.95 356.01,220.05 356.81,220.17 357.60,220.30 358.40,220.46 359.20,220.63 360.00,220.82 360.79,221.03 361.59,221.26 362.39,221.51 363.18,221.78 363.98,222.06 364.78,222.36 365.57,222.67 366.37,223.00 367.17,223.35 367.97,223.72 368.76,224.10 369.56,224.49 370.36,224.90 371.15,225.33 371.95,225.77 372.75,226.22 373.54,226.69 374.34,227.17 375.14,227.66 375.94,228.17 376.73,228.69 377.53,229.22 378.33,229.77 379.12,230.32 379.92,230.89 380.72,231.47 381.51,232.06 382.31,232.66 383.11,233.27 383.91,233.89 384.70,234.53 385.50,235.17 386.30,235.82 387.09,236.48 387.89,237.15 388.69,237.82 389.48,238.51 390.28,239.20 391.08,239.90 391.88,240.61 392.67,241.33 393.47,242.05 394.27,242.78 395.06,243.51 395.86,244.25 396.66,245.00 397.45,245.75 398.25,246.51 399.05,247.27 399.85,248.04 400.64,248.81 401.44,249.58 402.24,250.36 403.03,251.14 403.83,251.93 404.63,252.71 405.42,253.50 406.22,254.30 407.02,255.09 407.82,255.89 408.61,256.69 409.41,257.48 410.21,258.28 411.00,259.08 411.80,259.88"/>
</g>
<g fill="#111">
<rect x="90.80" y="74.46" width="6.00" height="6.00"/>
<rect x="154.40" y="75.25" width="6.00" height="6.00"/>
<rect x="218.00" y="188.18" width="6.00" height="6.00"/>
<rect x="281.60" y="264.39" width="6.00" height="6.00"/>
<rect x="345.20" y="67.35" width="6.00" height="6.00"/>
<rect x="408.80" y="264.39" width="6.00" height="6.00"/>
<circle cx="93.80" cy="102.73" r="3.3"/>
<circle cx="157.40" cy="70.35" r="3.3"/>
<circle cx="221.00" cy="188.02" r="3.3"/>
<circle cx="284.60" cy="266.99" r="3.3"/>
<circle cx="348.20" cy="72.33" r="3.3"/>
<circle cx="411.80" cy="265.41" r="3.3"/>
<path d="M93.80,98.03L97.87,105.08L89.73,105.08Z"/>
<path d="M157.40,25.77L161.47,32.82L153.33,32.82Z"/>
<path d="M221.00,171.87L225.07,178.92L216.93,178.92Z"/>
<path d="M284.60,267.42L288.67,274.47L280.53,274.47Z"/>
<path d="M348.20,48.67L352.27,55.72L344.13,55.72Z"/>
<path d="M411.80,264.66L415.87,271.71L407.73,271.71Z"/>
<path d="M93.80,73.87L97.87,66.82L89.73,66.82Z"/>
<path d="M157.40,35.17L161.47,28.12L153.33,28.12Z"/>
<path d="M221.00,181.27L225.07,174.22L216.93,174.22Z"/>
<path d="M284.60,271.69L288.67,264.64L280.53,264.64Z"/>
<path d="M348.20,46.23L352.27,39.18L344.13,39.18Z"/>
<path d="M411.80,266.95L415.87,259.90L407.73,259.90Z"/>
<path d="M93.80,98.23L98.30,102.73L93.80,107.23L89.30,102.73Z"/>
<path d="M157.40,65.85L161.90,70.35L157.40,74.85L152.90,70.35Z"/>
<path d="M221.00,183.52L225.50,188.02L221.00,192.52L216.50,188.02Z"/>
<path d="M284.60,264.07L289.10,268.57L284.60,273.07L280.10,268.57Z"/>
<path d="M348.20,68.22L352.70,72.72L348.20,77.22L343.70,72.72Z"/>
<path d="M411.80,258.54L416.30,263.04L411.80,267.54L407.30,263.04Z"/>
<path d="M89.10,211.71L96.15,207.64L96.15,215.78Z"/>
<path d="M152.70,241.33L159.75,237.25L159.75,245.40Z"/>
<path d="M216.30,257.91L223.35,253.84L223.35,261.98Z"/>
<path d="M279.90,259.49L286.95,255.42L286.95,263.56Z"/>
<path d="M343.50,220.00L350.55,215.93L350.55,224.07Z"/>
<path d="M407.10,259.88L414.15,255.81L414.15,263.95Z"/>
</g>
<g>
<line x1="185.1" y1="11.50" x2="208.8" y2="11.50" stroke="#2a2a2a" stroke-width="1.05"/>
<g fill="#111"><rect x="194.10" y="8.50" width="6.00" height="6.00"/></g>
<text x="211.3" y="14.80" font-family="Liberation Serif, serif" font-size="10.2" fill="#222">Maximum Stress in X-Direction</text>
<line x1="185.1" y1="23.60" x2="208.8" y2="23.60" stroke="#2a2a2a" stroke-width="1.05"/>
<g fill="#111"><circle cx="197.10" cy="23.60" r="3.3"/></g>
<text x="211.3" y="26.90" font-family="Liberation Serif, serif" font-size="10.2" fill="#222">Maximum Stress in Y-Direction</text>
<line x1="185.1" y1="35.70" x2="208.8" y2="35.70" stroke="#2a2a2a" stroke-width="1.05"/>
<g fill="#111"><path d="M197.10,31.00L201.17,38.05L193.03,38.05Z"/></g>
<text x="211.3" y="39.00" font-family="Liberation Serif, serif" font-size="10.2" fill="#222">Maximum Stress in Z-Direction</text>
<line x1="185.1" y1="47.80" x2="208.8" y2="47.80" stroke="#2a2a2a" stroke-width="1.05"/>
<g fill="#111"><path d="M197.10,52.50L201.17,45.45L193.03,45.45Z"/></g>
<text x="211.3" y="51.10" font-family="Liberation Serif, serif" font-size="10.2" fill="#222">Major Principal Stress</text>
<line x1="185.1" y1="59.90" x2="208.8" y2="59.90" stroke="#2a2a2a" stroke-width="1.05"/>
<g fill="#111"><path d="M197.10,55.40L201.60,59.90L197.10,64.40L192.60,59.90Z"/></g>
<text x="211.3" y="63.20" font-family="Liberation Serif, serif" font-size="10.2" fill="#222">Minor Principal Stress</text>
<line x1="185.1" y1="72.00" x2="208.8" y2="72.00" stroke="#2a2a2a" stroke-width="1.05"/>
<g fill="#111"><path d="M192.40,72.00L199.45,67.93L199.45,76.07Z"/></g>
<text x="211.3" y="75.30" font-family="Liberation Serif, serif" font-size="10.2" fill="#222">Maximum Shear Stress</text>
</g>
</svg>
</body></html>
